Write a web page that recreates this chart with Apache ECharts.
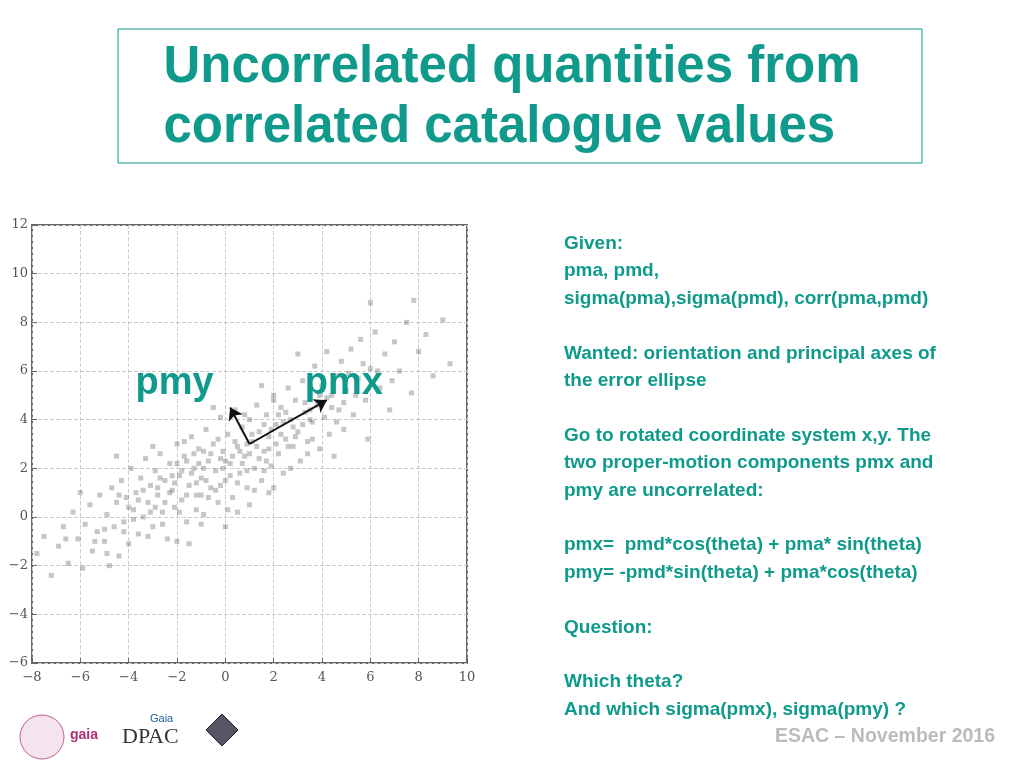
<!DOCTYPE html>
<html><head><meta charset="utf-8">
<script src="https://cdn.jsdelivr.net/npm/echarts@6/dist/echarts.min.js"></script>
<style>html,body{margin:0;padding:0;background:#fff}#c{width:1024px;height:768px}</style>
</head><body><div id="c"></div>
<script>
var xTicks=[-8,-6,-4,-2,0,2,4,6,8,10];
var yTicks=[-6,-4,-2,0,2,4,6,8,10,12];
var cloud=[
[-7.8,-1.5],[-7.5,-0.8],[-7.2,-2.4],[-6.9,-1.2],[-6.7,-0.4],[-6.5,-1.9],[-6.3,0.2],[-6.1,-0.9],[-5.9,-2.1],[-5.8,-0.3],
[-5.6,0.5],[-5.5,-1.4],[-5.3,-0.6],[-5.2,0.9],[-5.0,-1.0],[-4.9,0.1],[-4.8,-2.0],[-4.7,1.2],[-4.6,-0.4],[-4.5,0.6],
[-4.4,-1.6],[-4.3,1.5],[-4.2,-0.2],[-4.1,0.8],[-4.0,-1.1],[-3.9,2.0],[-3.8,0.3],[-3.7,1.0],[-3.6,-0.7],[-3.5,1.6],
[-3.4,0.0],[-3.3,2.4],[-3.2,0.6],[-3.1,1.3],[-3.0,-0.4],[-2.9,1.9],[-2.8,0.9],[-2.7,2.6],[-2.6,0.2],[-2.5,1.5],
[-2.4,-0.9],[-2.3,2.2],[-2.2,1.1],[-2.1,0.4],[-2.0,3.0],[-1.9,1.7],[-1.8,0.7],[-1.7,2.5],[-1.6,-0.2],[-1.5,1.3],
[-1.4,3.3],[-1.3,2.0],[-1.2,0.9],[-1.1,2.8],[-1.0,1.6],[-0.9,0.1],[-0.8,3.6],[-0.7,2.3],[-0.6,1.2],[-0.5,3.0],
[-0.4,1.9],[-0.3,0.6],[-0.2,4.1],[-0.1,2.7],[0.0,1.5],[0.1,3.4],[0.2,2.2],[0.3,0.8],[0.4,4.4],[0.5,2.9],
[0.6,1.8],[0.7,3.7],[0.8,2.5],[0.9,1.2],[1.0,4.0],[1.1,3.1],[1.2,2.0],[1.3,4.6],[1.4,3.5],[1.5,1.5],
[1.6,2.7],[1.7,4.2],[1.8,3.3],[1.9,2.1],[2.0,5.0],[2.1,3.8],[2.2,2.6],[2.3,4.5],[2.4,1.8],[2.5,3.2],
[2.6,5.3],[2.7,4.0],[2.8,2.9],[2.9,4.8],[3.0,3.5],[3.1,2.3],[3.2,5.6],[3.3,4.3],[3.4,3.1],[3.5,5.1],
[3.6,3.9],[3.7,6.2],[3.8,4.6],[3.9,2.8],[4.0,5.4],[4.1,4.1],[4.2,6.8],[4.3,3.4],[4.4,5.0],[4.5,2.5],
[4.6,5.8],[4.7,4.4],[4.8,6.4],[4.9,3.6],[5.0,5.2],[5.2,6.9],[5.3,4.2],[5.5,5.7],[5.6,7.3],[5.8,4.8],
[6.0,6.1],[6.2,7.6],[6.4,5.3],[6.6,6.7],[6.8,4.4],[7.0,7.2],[7.2,6.0],[7.5,8.0],[7.7,5.1],[8.0,6.8],
[8.3,7.5],[8.6,5.8],[9.0,8.1],[9.3,6.3],[7.8,8.9],[6.0,8.8],[3.5,4.0],[5.9,3.2],[-2.0,-1.0],[-1.0,-0.3],
[-3.0,2.9],[-0.5,4.5],[1.0,0.5],[2.0,1.2],[0.0,-0.4],[-1.5,-1.1],[-4.5,2.5],[-6.0,1.0],[1.5,5.4],[3.0,6.7],
[-2.5,0.6],[-1.8,1.9],[-1.2,1.4],[-0.6,2.6],[0.2,1.7],[0.7,2.2],[1.3,2.9],[1.9,3.6],[-2.2,1.7],[-1.6,2.3],
[-0.9,2.0],[-0.2,2.4],[0.4,3.1],[1.0,2.6],[-2.8,1.2],[-3.4,1.1],[-1.0,0.9],[0.5,1.4],[2.4,3.9],[2.9,3.3],
[3.3,4.7],[3.9,5.0],[4.4,4.5],[2.2,4.2],[1.6,3.8],[-0.3,3.2],[-1.3,2.6],[-2.0,2.2],[-3.8,-0.1],[-2.6,-0.3],
[-1.9,0.2],[-0.7,0.8],[0.9,1.9],[1.7,2.3],[2.6,2.9],[3.6,3.2],[4.9,4.7],[5.4,5.0],[-4.0,0.4],[-3.2,-0.8],
[-5.0,-0.5],[-4.4,0.9],[0.1,0.3],[-0.4,1.1],[1.2,1.1],[2.7,2.0],[3.4,2.6],[-1.7,3.1],[0.8,4.2],[2.0,4.8],
[-2.3,1.0],[-1.4,1.8],[-0.8,1.5],[-0.1,2.0],[0.6,2.7],[1.4,2.4],[2.1,3.0],[2.8,3.7],[3.5,4.4],[4.2,4.9],
[-3.6,0.7],[-2.9,0.4],[-2.1,1.4],[-1.1,2.2],[-0.2,1.3],[0.3,2.5],[1.1,3.4],[1.8,2.8],[2.5,4.3],[3.2,3.8],
[-1.6,0.9],[-0.9,2.7],[0.0,2.3],[0.9,3.0],[1.6,1.9],[2.3,3.4],[-2.7,1.6],[-3.1,0.2],[-4.2,-0.6],[-1.2,0.3],
[4.6,3.9],[5.1,5.9],[5.7,6.3],[6.3,6.0],[6.9,5.6],[-5.4,-1.0],[-6.6,-0.9],[-4.9,-1.5],[0.5,0.2],[1.8,1.0]
];
var origin=[1,3], pmxTip=[4.2,4.8], pmyTip=[0.2,4.5];
var chart=echarts.init(document.getElementById('c'));
var teal='#0f9a8b';
var rt=[
'Given:','pma, pmd,','sigma(pma),sigma(pmd), corr(pma,pmd)','',
'Wanted: orientation and principal axes of','the error ellipse','',
'Go to rotated coordinate system x,y. The','two proper-motion components pmx and','pmy are uncorrelated:','',
'pmx=  pmd*cos(theta) + pma* sin(theta)','pmy= -pmd*sin(theta) + pma*cos(theta)','',
'Question:','','Which theta?','And which sigma(pmx), sigma(pmy) ?'];
var fmt=function(v){return String(v).replace('-','\u2212');};
chart.setOption({
animation:false,
grid:{left:32,right:557,top:225,bottom:105,show:true,borderColor:'#666',borderWidth:2},
xAxis:{type:'value',min:-8,max:10,interval:2,axisLine:{show:false,onZero:false},axisTick:{show:true,inside:true,lineStyle:{color:'#666'}},
 axisLabel:{color:'#555',fontFamily:'DejaVu Serif',fontSize:13,formatter:fmt},
 splitLine:{lineStyle:{type:'dashed',color:'#ccc'}}},
yAxis:{type:'value',min:-6,max:12,interval:2,axisLine:{show:false,onZero:false},axisTick:{show:true,inside:true,lineStyle:{color:'#666'}},
 axisLabel:{color:'#555',fontFamily:'DejaVu Serif',fontSize:13,margin:4,formatter:fmt},
 splitLine:{lineStyle:{type:'dashed',color:'#ccc'}}},
series:[
{type:'scatter',data:cloud,symbol:'rect',symbolSize:5,itemStyle:{color:'#333',opacity:0.28},
 markLine:{silent:true,symbol:['none','arrow'],symbolSize:12,animation:false,label:{show:false},
  lineStyle:{color:'#111',width:2,type:'solid'},
  data:[[{coord:origin},{coord:pmxTip}],[{coord:origin},{coord:pmyTip}]]}},
{type:'scatter',symbolSize:0,data:[[-2.1,5.5],[4.9,5.5]],z:6,itemStyle:{opacity:1},
 label:{show:true,color:teal,fontFamily:'Liberation Sans',fontWeight:'bold',fontSize:38,
 formatter:function(p){return p.dataIndex===0?'pmy':'pmx';}}}
],
graphic:[
{type:'rect',shape:{x:118,y:29,width:804,height:134},style:{fill:'#fff',stroke:teal,lineWidth:1}},
{type:'text',left:'center',top:38,style:{text:'Uncorrelated quantities from\ncorrelated catalogue values',fill:teal,font:'bold 51px "Liberation Sans"',align:'center',lineHeight:60}},
{type:'text',left:564,top:230,style:{text:rt.join('\n'),fill:teal,font:'bold 19px "Liberation Sans"',lineHeight:27.4}},
{type:'text',left:775,top:727,style:{text:'ESAC \u2013 November 2016',fill:'#bbb',font:'bold 19.5px "Liberation Sans"'}},
{type:'circle',shape:{cx:42,cy:737,r:22},style:{fill:'#f4e4ee',stroke:'#c05a8a'}},
{type:'text',left:70,top:728,style:{text:'gaia',fill:'#b03070',font:'bold 14px "Liberation Sans"'}},
{type:'text',left:122,top:726,style:{text:'DPAC',fill:'#333',font:'22px "Liberation Serif"'}},
{type:'text',left:150,top:713,style:{text:'Gaia',fill:'#2060a0',font:'11px "Liberation Sans"'}},
{type:'polygon',shape:{points:[[222,714],[238,730],[222,746],[206,730]]},style:{fill:'#556',stroke:'#222'}}
]
});
</script></body></html>
